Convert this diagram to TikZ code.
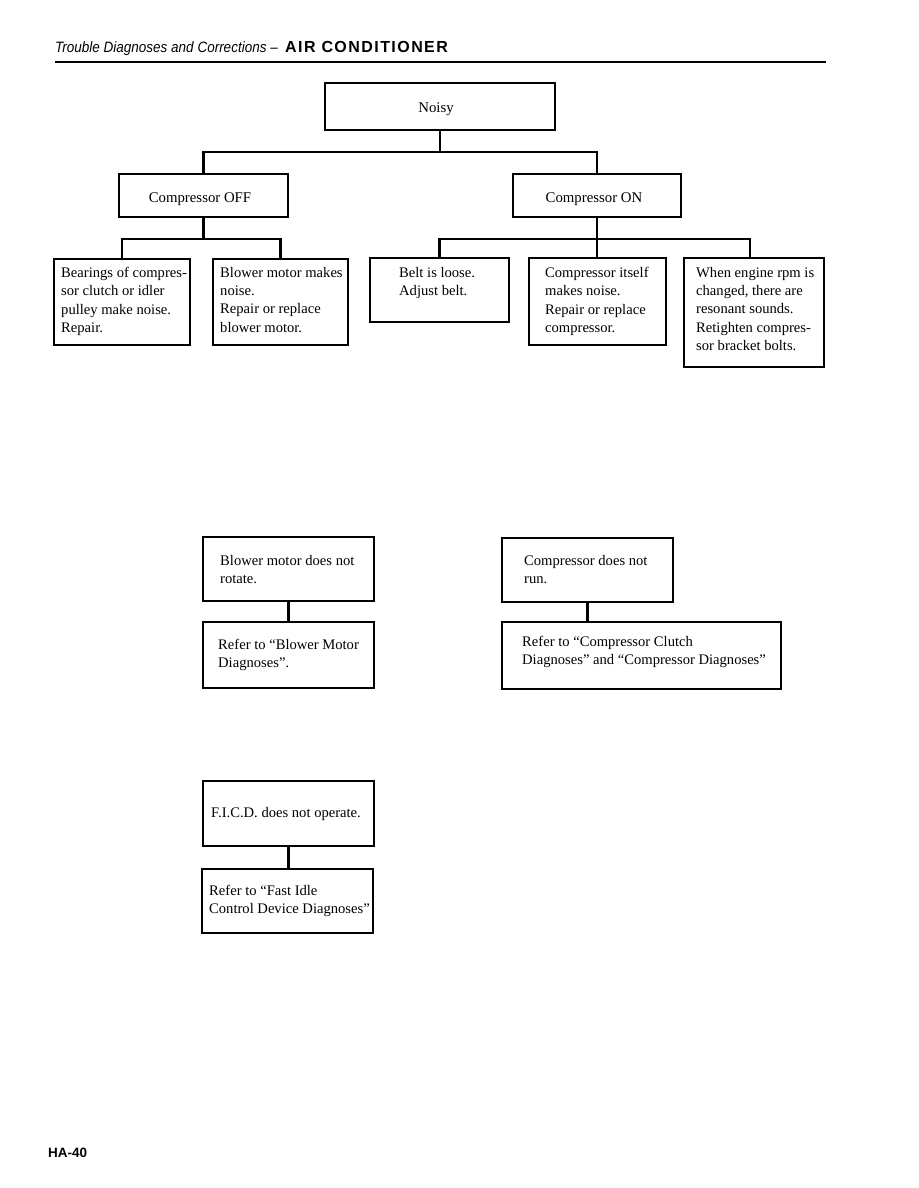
\documentclass[tikz,border=0pt]{standalone}
\usepackage{fontspec}
\usepackage{graphicx}
\setmainfont{Liberation Serif}
\newfontfamily\hdrfont{Liberation Sans}
\newfontfamily\hdrspaced[LetterSpace=9]{Liberation Sans}
\begin{document}
\begin{tikzpicture}[x=1pt,y=-1pt,
  box/.style={draw, line width=1.5pt, anchor=north west, inner sep=0pt, outer sep=0pt},
  conn/.style={line width=2.7pt, line join=miter},
  txt/.style={anchor=north west, align=left, inner sep=0pt, font=\fontsize{14.6}{18.3}\selectfont, execute at begin node={\rule{0pt}{12pt}}},
  ctxt/.style={anchor=base, inner sep=0pt, font=\fontsize{14.8}{18.3}\selectfont}]
\newcommand\heavyedge[1]{\draw[line width=2.4pt] (#1.north east) -- (#1.south east) -- (#1.south west);}
\fill[white] (0,0) rectangle (918,1188);
\useasboundingbox (0,0) rectangle (918,1188);

% header
\node[anchor=base west, inner sep=0pt, font=\hdrfont\itshape\fontsize{15}{17}\selectfont] (hdr) at (55,53) {\scalebox{0.9}[1]{Trouble Diagnoses and Corrections –}};
\node[anchor=base west, inner sep=0pt, font=\hdrspaced\bfseries\fontsize{16}{18}\selectfont] (hdr2) at (285,53) {AIR CONDITIONER};
\coordinate (ruleL) at (55,62);
\coordinate (ruleR) at (826,62);
\draw[line width=2pt] (ruleL) -- (ruleR);

% level 0
\node[box, minimum width=230pt, minimum height=47pt] (noisy) at (325,83) {};
\node[ctxt] (tnoisy) at (436,113) {Noisy};

% level 1
\node[box, minimum width=169pt, minimum height=43pt] (off) at (119,174) {};
\node[ctxt] (toff) at (200,202) {Compressor OFF};
\node[box, minimum width=168pt, minimum height=43pt] (on) at (513,174) {};
\node[ctxt] (ton) at (594,202) {Compressor ON};

% level 2 (text node tops = first baseline - 12)
\node[box, minimum width=136pt, minimum height=86pt] (b1) at (54,259) {};
\node[txt] (t1) at ([shift={(7,8)}]b1.north west) {Bearings of compres-\\sor clutch or idler\\pulley make noise.\\Repair.};
\node[box, minimum width=135pt, minimum height=86pt] (b2) at (213,259) {};
\node[txt] (t2) at ([shift={(7,8)}]b2.north west) {Blower motor makes\\noise.\\Repair or replace\\blower motor.};
\node[box, minimum width=139pt, minimum height=64pt] (b3) at (370,258) {};
\node[txt] (t3) at ([shift={(29,9)}]b3.north west) {Belt is loose.\\Adjust belt.};
\node[box, minimum width=137pt, minimum height=87pt] (b4) at (529,258) {};
\node[txt] (t4) at ([shift={(16,9)}]b4.north west) {Compressor itself\\makes noise.\\Repair or replace\\compressor.};
\node[box, minimum width=140pt, minimum height=109pt] (b5) at (684,258) {};
\node[txt] (t5) at ([shift={(12,9)}]b5.north west) {When engine rpm is\\changed, there are\\resonant sounds.\\Retighten compres-\\sor bracket bolts.};

% connectors top tree
\coordinate (bus0) at (0,152);
\coordinate (bus1) at (0,239);
\draw[conn] (noisy.south) -- (noisy.south |- bus0);
\draw[conn] (off.north) |- (on.north |- bus0) -- (on.north);
\draw[conn] (off.south) -- (off.south |- bus1);
\draw[conn] (b1.north) |- (b2.north |- bus1) -- (b2.north);
\draw[conn] (on.south) -- (on.south |- b4.north);
\draw[conn] (b3.north) |- ([xshift=-4pt]b5.north |- bus1) -- ([xshift=-4pt]b5.north);

% lower groups
\node[box, minimum width=171pt, minimum height=64pt] (r1) at (203,537) {};
\node[txt] (tr1) at (220,555) {Blower motor does not\\rotate.};
\node[box, minimum width=171pt, minimum height=66pt] (r1b) at (203,622) {};
\node[txt] (tr1b) at (218,639) {Refer to “Blower Motor\\Diagnoses”.};
\draw[conn] (r1.south) -- (r1.south |- r1b.north);

\node[box, minimum width=171pt, minimum height=64pt] (r2) at (502,538) {};
\node[txt] (tr2) at (524,555) {Compressor does not\\run.};
\node[box, minimum width=279pt, minimum height=67pt] (r2b) at (502,622) {};
\node[txt] (tr2b) at (522,636) {Refer to “Compressor Clutch\\Diagnoses” and “Compressor Diagnoses”};
\draw[conn] (r2.south) -- (r2.south |- r2b.north);

\node[box, minimum width=171pt, minimum height=65pt] (f1) at (203,781) {};
\node[txt] (tf1) at (211,805) {F.I.C.D. does not operate.};
\node[box, minimum width=171pt, minimum height=64pt] (f1b) at (202,869) {};
\node[txt] (tf1b) at (209,885) {Refer to “Fast Idle\\Control Device Diagnoses”};
\draw[conn] (f1.south) -- (f1.south |- f1b.north);

\foreach \b in {noisy,off,on,b1,b2,b3,b4,b5,r1,r2,f1}{\heavyedge{\b}}

% page number
\node[anchor=base west, inner sep=0pt, font=\hdrfont\bfseries\fontsize{13.5}{15}\selectfont] (pg) at (48,1157) {HA-40};
\end{tikzpicture}
\end{document}
